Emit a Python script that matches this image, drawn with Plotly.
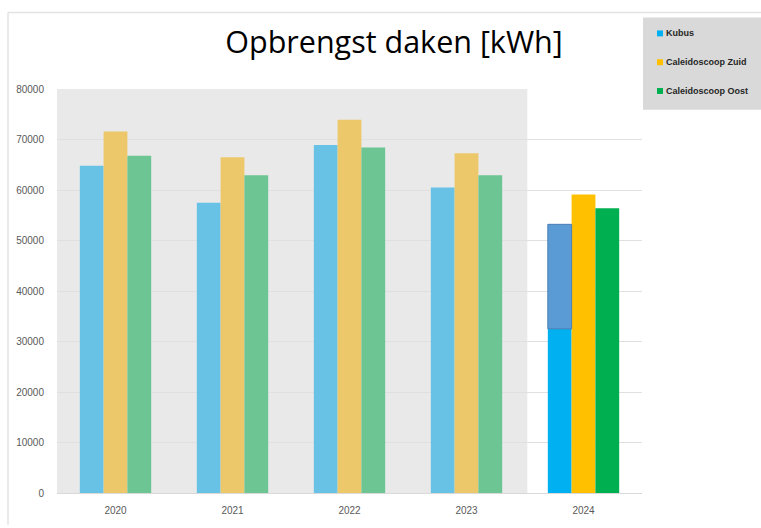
import plotly.graph_objects as go

years = ["2020", "2021", "2022", "2023", "2024"]
kubus = [64800, 57500, 68900, 60500, 32500]
kubus_2024_total = 53200
zuid = [71600, 66500, 73900, 67300, 59100]
oost = [66800, 62900, 68400, 62900, 56400]
y_ticks = [0, 10000, 20000, 30000, 40000, 50000, 60000, 70000, 80000]

series_names = ["Kubus", "Caleidoscoop Zuid", "Caleidoscoop Oost"]
bright = ["#00B0F0", "#FFC000", "#00B050"]
faded = ["#68C2E6", "#EDC86B", "#6CC592"]

fig = go.Figure()
for name, vals, b, f, og in zip(series_names, [kubus, zuid, oost], bright, faded, ["k", "z", "o"]):
    fig.add_trace(go.Bar(
        x=years, y=vals, name=name, offsetgroup=og,
        marker=dict(color=[f] * (len(years) - 1) + [b], line=dict(width=0)),
        showlegend=False,
    ))

fig.add_trace(go.Bar(
    x=[years[-1]], y=[kubus_2024_total - kubus[-1]], base=[kubus[-1]],
    offsetgroup="k", name="Kubus prognose",
    marker=dict(color="#5B9BD5", line=dict(color="#4A7FB5", width=1)),
    showlegend=False,
))

shapes = [
    dict(type="rect", xref="x", yref="y", x0=-0.5, x1=3.52, y0=0, y1=80000,
         fillcolor="#E9E9E9", line=dict(width=0), layer="below"),
]

W, H = 761, 528
L, R, T, B = 57, 642, 89, 496
def px(x):
    return (x - L) / (R - L)
def py(y):
    return (B - y) / (B - T)

shapes.append(dict(type="line", xref="paper", yref="paper", x0=px(8), x1=px(761), y0=py(12), y1=py(12),
                   line=dict(color="#E3E3E3", width=1.5)))
shapes.append(dict(type="line", xref="paper", yref="paper", x0=px(8), x1=px(8), y0=py(12), y1=py(528),
                   line=dict(color="#E3E3E3", width=1.5)))
shapes.append(dict(type="rect", xref="paper", yref="paper", x0=px(643), x1=px(762), y0=py(17), y1=py(110),
                   fillcolor="#D9D9D9", line=dict(width=0)))

annotations = []
leg_y = [33, 62, 91]
for name, col, ly in zip(series_names, bright, leg_y):
    shapes.append(dict(type="rect", xref="paper", yref="paper", x0=px(657), x1=px(663),
                       y0=py(ly + 3), y1=py(ly - 3), fillcolor=col, line=dict(width=0)))
    annotations.append(dict(xref="paper", yref="paper", x=px(664), y=py(ly), text="<b>" + name + "</b>",
                            showarrow=False, xanchor="left", yanchor="middle",
                            font=dict(family="Liberation Sans", size=9, color="#262626")))

fig.update_layout(
    width=W, height=H,
    margin=dict(l=L, r=W - R, t=T, b=H - B),
    paper_bgcolor="white", plot_bgcolor="white",
    barmode="group", bargap=0.39, bargroupgap=0,
    title=dict(text="Opbrengst daken [kWh]", x=394 / W, xanchor="center", y=1 - 42 / H, yanchor="middle",
               font=dict(family="Open Sans", size=30.5, color="#000000")),
    shapes=shapes, annotations=annotations,
    font=dict(family="Liberation Sans"),
)

fig.update_yaxes(range=[0, 80000], tickvals=y_ticks, ticktext=[str(v) for v in y_ticks],
                 showgrid=True, gridcolor="#E0E0E0", gridwidth=1, zeroline=False,
                 showline=False, ticks="outside", ticklen=10, tickcolor="rgba(0,0,0,0)",
                 tickfont=dict(family="Liberation Sans", size=10, color="#595959"))
fig.update_xaxes(type="category", showline=True, linecolor="#D9D9D9", linewidth=1,
                 ticks="outside", ticklen=8, tickcolor="rgba(0,0,0,0)",
                 tickfont=dict(family="Liberation Sans", size=10, color="#595959"))

fig.write_html("out.html", config={"displayModeBar": False},
               post_script="document.body.style.margin='0';document.body.style.overflow='hidden';")
